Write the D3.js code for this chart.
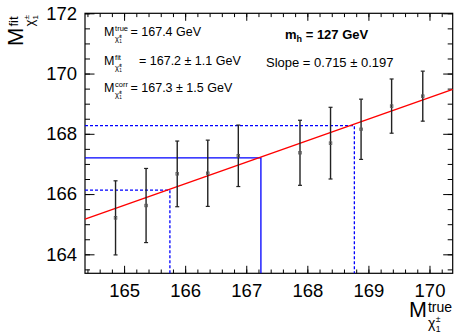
<!DOCTYPE html>
<html>
<head>
<meta charset="utf-8">
<script src="https://cdn.jsdelivr.net/npm/d3@7"></script>
<style>
body { margin: 0; background: #fff; }
svg { display: block; font-family: "Liberation Sans", Arial, Helvetica, sans-serif; }
.tick text { font-family: "Liberation Sans", Arial, sans-serif; }
</style>
</head>
<body>
<script>
// generated mass points (true) vs fitted mass
var xTrue = [164.86, 165.36, 165.87, 166.37, 166.87, 167.88, 168.38, 168.88, 169.38, 169.89];
var yFit = [165.21, 165.62, 166.67, 166.69, 167.27, 167.37, 167.69, 168.15, 168.92, 169.25];
var yErr = [1.23, 1.23, 1.09, 1.1, 1.02, 1.08, 1.19, 1.0, 0.9, 0.83];

// linear fit, passes through (167.2, 167.2)
var fitSlope = 0.715;
var fitPivot = 167.2;

// reading lines: [x, y] corners
var solidCorner = [167.24, 167.2];
var dashCorners = [[165.75, 166.13], [168.77, 168.27]];

var xTicks = [165, 166, 167, 168, 169, 170];
var yTicks = [164, 166, 168, 170, 172];

var W = 454, H = 333;
var MARGINS = {left: 85, right: 1.3, top: 13.3, bottom: 59.7};
var width = W - MARGINS.left - MARGINS.right;
var height = H - MARGINS.top - MARGINS.bottom;

var xScale = d3.scaleLinear().domain([164.36, 170.38]).range([0, width]);
var yScale = d3.scaleLinear().domain([163.37, 172]).range([height, 0]);

var svg = d3.select("body").append("svg")
    .attr("width", W)
    .attr("height", H);

var g = svg.append("g")
    .attr("transform", "translate(" + MARGINS.left + "," + MARGINS.top + ")");

// minor tick values
var xMinor = d3.range(164.4, 170.4, 0.2).map(function (d) { return +d.toFixed(1); });
var yMinor = d3.range(163.5, 172.01, 0.5);

function styleAxis(sel) {
    sel.select(".domain").remove();
    sel.selectAll(".tick line").attr("stroke", "#000").attr("stroke-width", 1);
}

// bottom
g.append("g").attr("transform", "translate(0," + height + ")")
    .call(d3.axisBottom(xScale).tickValues(xMinor).tickFormat("").tickSizeInner(-3.8).tickSizeOuter(0))
    .call(styleAxis);
g.append("g").attr("transform", "translate(0," + height + ")")
    .call(d3.axisBottom(xScale).tickValues(xTicks).tickFormat(d3.format("d")).tickSizeInner(-7.5).tickSizeOuter(0).tickPadding(10.4))
    .call(styleAxis)
    .selectAll("text").attr("font-size", 18.5).attr("fill", "#000");
// top
g.append("g")
    .call(d3.axisTop(xScale).tickValues(xMinor).tickFormat("").tickSizeInner(-3.8).tickSizeOuter(0))
    .call(styleAxis);
g.append("g")
    .call(d3.axisTop(xScale).tickValues(xTicks).tickFormat("").tickSizeInner(-7.5).tickSizeOuter(0))
    .call(styleAxis);
// left
g.append("g")
    .call(d3.axisLeft(yScale).tickValues(yMinor).tickFormat("").tickSizeInner(-5).tickSizeOuter(0))
    .call(styleAxis);
g.append("g")
    .call(d3.axisLeft(yScale).tickValues(yTicks).tickFormat(d3.format("d")).tickSizeInner(-9.5).tickSizeOuter(0).tickPadding(8))
    .call(styleAxis)
    .selectAll("text").attr("font-size", 18.5).attr("fill", "#000");
// right
g.append("g").attr("transform", "translate(" + width + ",0)")
    .call(d3.axisRight(yScale).tickValues(yMinor).tickFormat("").tickSizeInner(-5).tickSizeOuter(0))
    .call(styleAxis);
g.append("g").attr("transform", "translate(" + width + ",0)")
    .call(d3.axisRight(yScale).tickValues(yTicks).tickFormat("").tickSizeInner(-9.5).tickSizeOuter(0))
    .call(styleAxis);

// frame
g.append("rect")
    .attr("width", width).attr("height", height)
    .attr("fill", "none").attr("stroke", "#000").attr("stroke-width", 1.2);

// blue reading lines
var xMin = xScale.domain()[0], yMin = yScale.domain()[0];
var line = d3.line().x(function (d) { return xScale(d[0]); }).y(function (d) { return yScale(d[1]); });

dashCorners.forEach(function (c) {
    g.append("path")
        .attr("d", line([[xMin, c[1]], [c[0], c[1]], [c[0], yMin]]))
        .attr("fill", "none").attr("stroke", "#0000ff").attr("stroke-width", 1.3)
        .attr("stroke-dasharray", "3,2");
});
g.append("path")
    .attr("d", line([[xMin, solidCorner[1]], [solidCorner[0], solidCorner[1]], [solidCorner[0], yMin]]))
    .attr("fill", "none").attr("stroke", "#0000ff").attr("stroke-width", 1.3);

// fit line
var fitPts = xScale.domain().map(function (x) { return [x, fitPivot + fitSlope * (x - fitPivot)]; });
g.append("path")
    .attr("d", line(fitPts))
    .attr("fill", "none").attr("stroke", "#ff0000").attr("stroke-width", 1.4);

// error bars + markers
var DATA = xTrue.map(function (x, i) { return {x: x, y: yFit[i], e: yErr[i]}; });
var pts = g.selectAll(".pt").data(DATA).enter().append("g").attr("class", "pt");
pts.append("line")
    .attr("x1", function (d) { return xScale(d.x); })
    .attr("x2", function (d) { return xScale(d.x); })
    .attr("y1", function (d) { return yScale(d.y - d.e); })
    .attr("y2", function (d) { return yScale(d.y + d.e); })
    .attr("stroke", "#222").attr("stroke-width", 1.4);
[-1, 1].forEach(function (s) {
    pts.append("line")
        .attr("x1", function (d) { return xScale(d.x) - 2; })
        .attr("x2", function (d) { return xScale(d.x) + 2; })
        .attr("y1", function (d) { return yScale(d.y + s * d.e); })
        .attr("y2", function (d) { return yScale(d.y + s * d.e); })
        .attr("stroke", "#222").attr("stroke-width", 1.2);
});
pts.append("rect")
    .attr("x", function (d) { return xScale(d.x) - 1.3; })
    .attr("y", function (d) { return yScale(d.y) - 1.3; })
    .attr("width", 2.6).attr("height", 2.6)
    .attr("fill", "none").attr("stroke", "#555").attr("stroke-width", 0.8);

// M with super/sub scripts (chi with nested +- and 1)
function massLabel(parent, x, y, fs, sup, tilde, supUp, subDown, ss) {
    var m = parent.append("text").attr("x", x).attr("y", y).attr("font-size", fs).text("M");
    var w = m.node().getComputedTextLength();
    var sx = x + w + fs * 0.05;
    parent.append("text").attr("x", sx).attr("y", y - supUp).attr("font-size", ss).text(sup);
    var chi = parent.append("text").attr("x", sx).attr("y", y + subDown).attr("font-size", ss)
        .text(tilde ? "\u03c7\u0303" : "\u03c7");
    var cw = chi.node().getComputedTextLength();
    parent.append("text").attr("x", sx + cw + 0.3).attr("y", y + subDown - ss * 0.42)
        .attr("font-size", ss * 0.62).text("\u00b1");
    parent.append("text").attr("x", sx + cw + 0.3).attr("y", y + subDown + ss * 0.28)
        .attr("font-size", ss * 0.62).text("1");
}

// legend block
var legTexts = ["= 167.4 GeV", "= 167.2 \u00b1 1.1 GeV", "= 167.3 \u00b1 1.5 GeV"];
var legSups = ["true", "fit", "corr"];
var legY = [36, 65, 92];
var legX = [130.5, 139, 130.5];
legTexts.forEach(function (t, i) {
    massLabel(svg, 104, legY[i], 12.5, legSups[i], true, 5, 5, 7.5);
    svg.append("text").attr("x", legX[i]).attr("y", legY[i]).attr("font-size", 12.5).text(t);
});

var mh = svg.append("text").attr("x", 285).attr("y", 39).attr("font-size", 13).attr("font-weight", "bold");
mh.append("tspan").text("m");
mh.append("tspan").attr("font-size", 9).attr("dy", 3).text("h");
mh.append("tspan").attr("dy", -3).text(" = 127 GeV");

svg.append("text").attr("x", 266).attr("y", 67).attr("font-size", 13)
    .text("Slope = 0.715 \u00b1 0.197");

// axis titles
var xt = svg.append("g");
massLabel(xt, 409, 316.7, 21.5, "true", false, 5, 11.3, 14);

var yt = svg.append("g").attr("transform", "translate(23,46) rotate(-90)");
massLabel(yt, 0, 0, 22, "fit", false, 5, 11, 13);
</script>
</body>
</html>
